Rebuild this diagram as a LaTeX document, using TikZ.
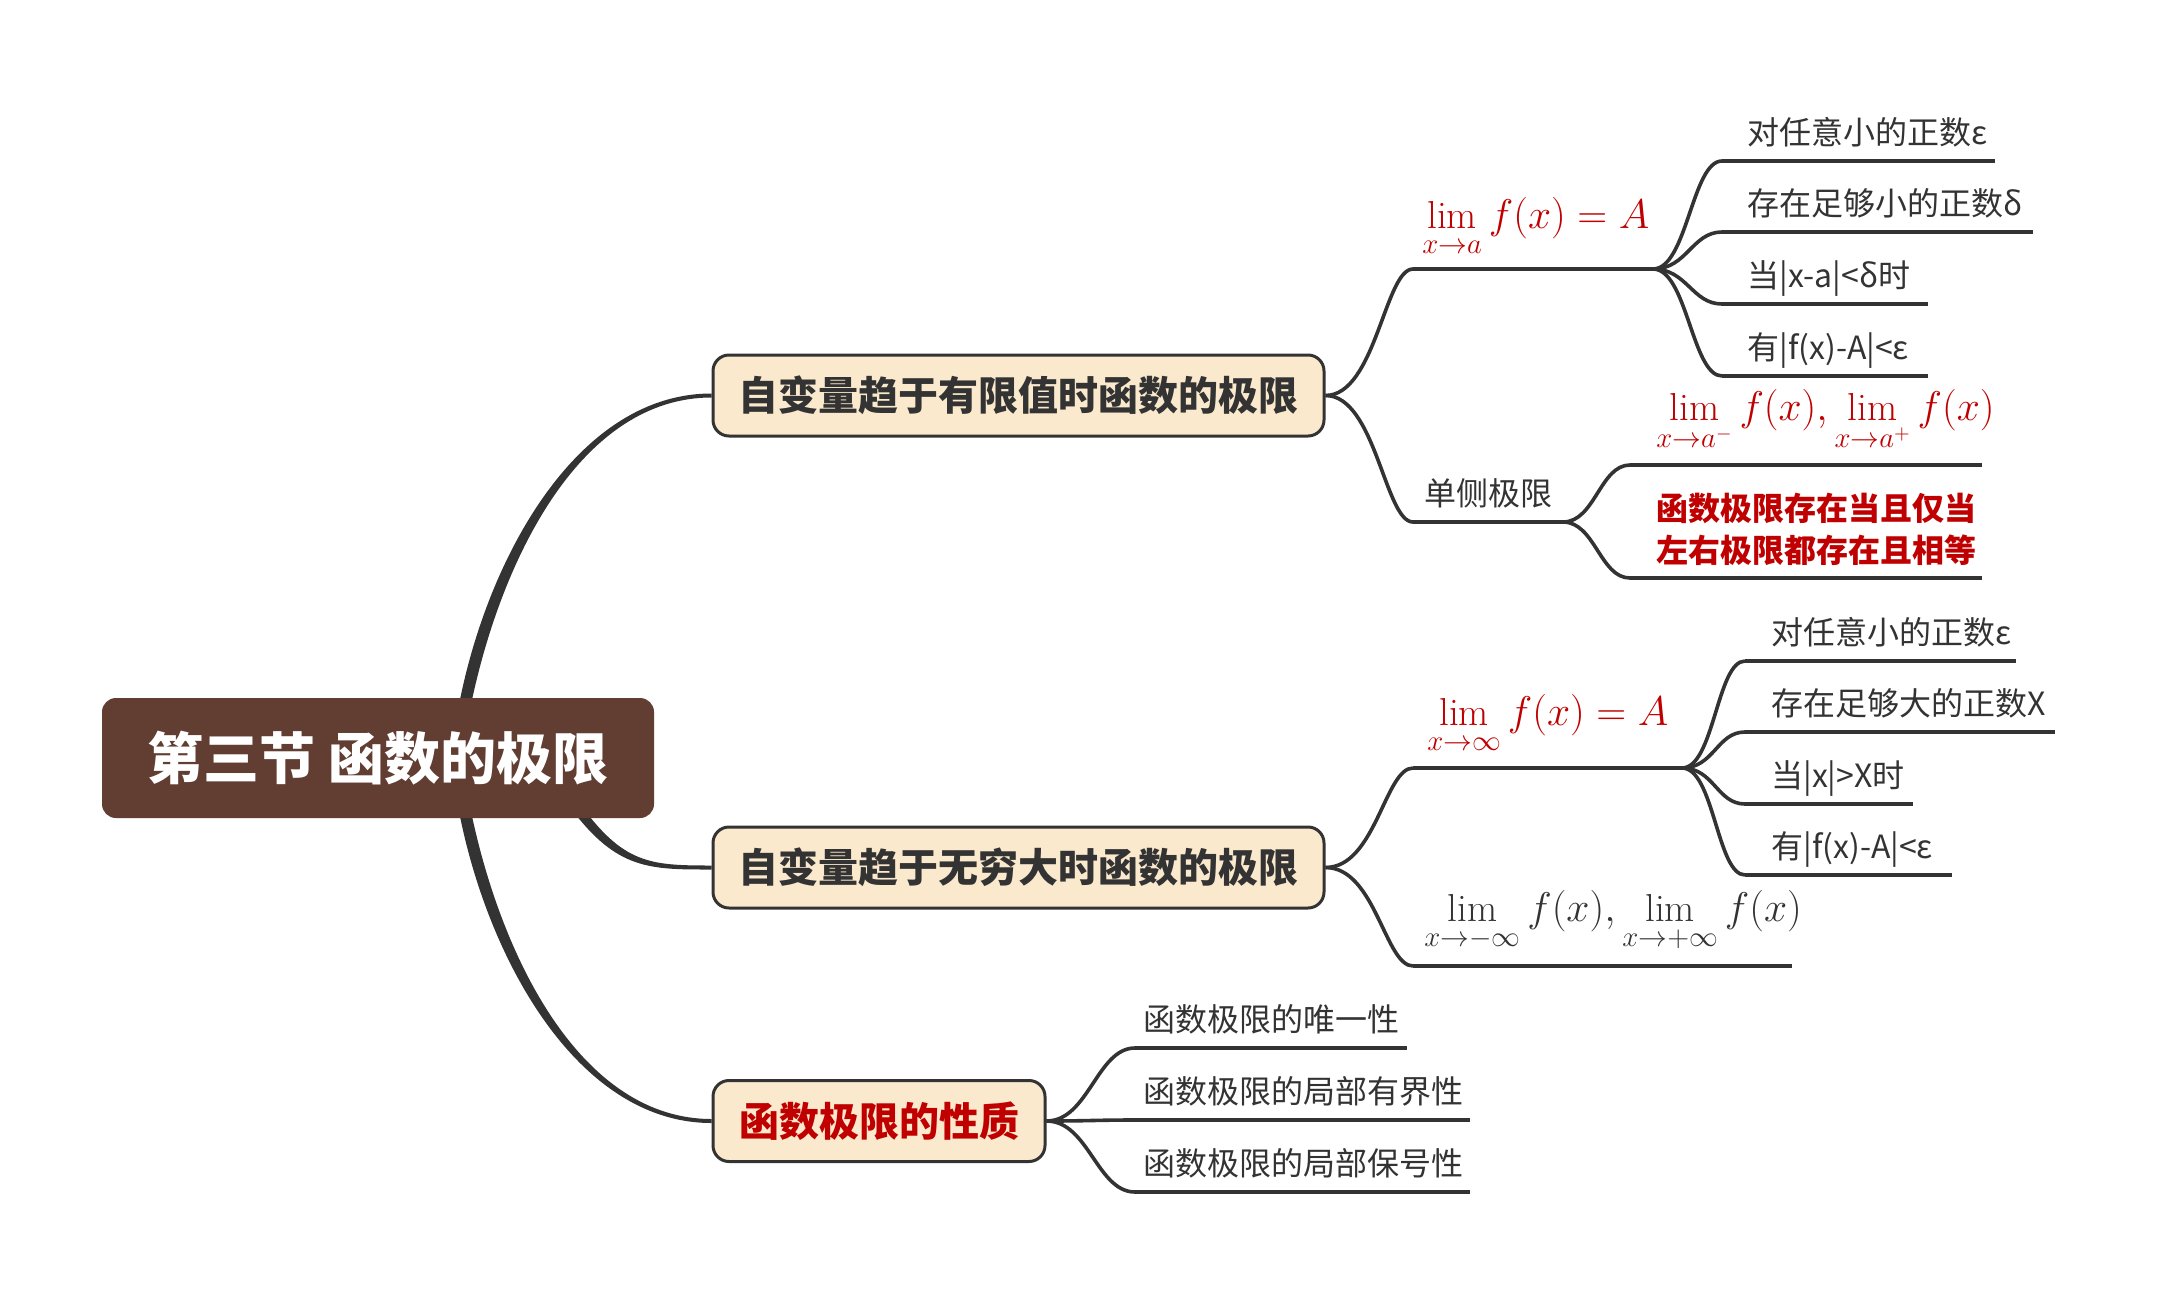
\documentclass[tikz,border=0pt]{standalone}
\usepackage{exscale}
\usepackage{fontspec}
\newfontfamily\cjk{Noto Sans CJK SC}
\usetikzlibrary{calc,backgrounds}
\definecolor{ln}{HTML}{333333}
\definecolor{rootc}{RGB}{97,61,50}
\definecolor{boxc}{RGB}{250,233,205}
\definecolor{redc}{HTML}{C00000}
\definecolor{txt}{HTML}{333333}
\begin{document}
\begin{tikzpicture}[x=0.5pt,y=-0.5pt,
  rootbox/.style={fill=rootc, rounded corners=7pt, minimum width=276pt, minimum height=60pt, text=white, font=\cjk\bfseries\fontsize{28}{32}\selectfont, inner sep=0},
  mainbox/.style={fill=boxc, draw=ln, line width=1.5pt, rounded corners=8pt, minimum height=40.5pt, font=\cjk\bfseries\fontsize{20}{24}\selectfont, text=txt, inner sep=0},
  leaf/.style={anchor=base west, inner sep=0, font=\cjk\fontsize{16}{19}\selectfont, text=txt},
  mathlbl/.style={anchor=south west, inner sep=0, text=redc, font=\fontsize{19.5}{24}\selectfont},
  redlbl/.style={anchor=west, inner sep=0, text=redc, align=left, font=\cjk\bfseries\fontsize{16}{21}\selectfont},
  conn/.style={draw=ln, line width=1.8pt},
  uline/.style={draw=ln, line width=1.8pt},
]
\useasboundingbox (0,0) rectangle (2158,1296);

% main nodes
\node[rootbox] (root) at (378,758) {第三节 函数的极限};
\node[mainbox, minimum width=305.5pt] (b1) at (1018.5,395.5) {自变量趋于有限值时函数的极限};
\node[mainbox, minimum width=305.5pt] (b2) at (1018.5,867.5) {自变量趋于无穷大时函数的极限};
\node[mainbox, minimum width=166pt, text=redc] (b3) at (879,1121) {函数极限的性质};

% ---------- group 1 ----------
\coordinate (l1s) at (1413,269); \coordinate (j1) at (1653,269);
\coordinate (l2s) at (1413,522); \coordinate (j2) at (1563,522);
\node[mathlbl] (f1) at (1422,258) {$\displaystyle\lim_{x\to a} f(x)=A$};
\node[leaf] (t2) at (1424,505) {单侧极限};

\coordinate (a1) at (1722,161); \coordinate (a1e) at (1995,161);
\coordinate (a2) at (1722,232); \coordinate (a2e) at (2033,232);
\coordinate (a3) at (1722,304); \coordinate (a3e) at (1928,304);
\coordinate (a4) at (1722,376); \coordinate (a4e) at (1928,376);
\node[leaf] (ta1) at (1747,144) {对任意小的正数ε};
\node[leaf] (ta2) at (1747,215) {存在足够小的正数δ};
\node[leaf] (ta3) at (1747,287) {当|x-a|<δ时};
\node[leaf] (ta4) at (1747,359) {有|f(x)-A|<ε};

\coordinate (c1) at (1630,465); \coordinate (c1e) at (1982,465);
\coordinate (c2) at (1630,578); \coordinate (c2e) at (1982,578);
\node[mathlbl] (f2) at (1656,452) {$\displaystyle\lim_{x\to a^-} f(x), \lim_{x\to a^+} f(x)$};
\node[redlbl] (r1) at (1656,529) {函数极限存在当且仅当\\左右极限都存在且相等};

% ---------- group 2 ----------
\coordinate (m1s) at (1413,768); \coordinate (j4) at (1682,768);
\coordinate (m2s) at (1413,966); \coordinate (m2e) at (1792,966);
\node[mathlbl] (f3) at (1427,755) {$\displaystyle\lim_{x\to\infty} f(x)=A$};
\node[mathlbl, text=txt] (f4) at (1424,953) {$\displaystyle\lim_{x\to-\infty} f(x), \lim_{x\to+\infty} f(x)$};

\coordinate (d1) at (1745,661); \coordinate (d1e) at (2016,661);
\coordinate (d2) at (1745,732); \coordinate (d2e) at (2055,732);
\coordinate (d3) at (1745,804); \coordinate (d3e) at (1913,804);
\coordinate (d4) at (1745,875); \coordinate (d4e) at (1952,875);
\node[leaf] (td1) at (1771,644) {对任意小的正数ε};
\node[leaf] (td2) at (1771,715) {存在足够大的正数X};
\node[leaf] (td3) at (1771,787) {当|x|>X时};
\node[leaf] (td4) at (1771,858) {有|f(x)-A|<ε};

% ---------- group 3 ----------
\coordinate (e1) at (1135,1048); \coordinate (e1e) at (1407,1048);
\coordinate (e2) at (1135,1120); \coordinate (e2e) at (1470,1120);
\coordinate (e3) at (1135,1192); \coordinate (e3e) at (1470,1192);
\node[leaf] (te1) at (1143,1031) {函数极限的唯一性};
\node[leaf] (te2) at (1143,1103) {函数极限的局部有界性};
\node[leaf] (te3) at (1143,1175) {函数极限的局部保号性};

\begin{scope}[on background layer]
\fill[white] (0,0) rectangle (2158,1296);
% tapered main connectors
\fill[ln] ($(root.north)+(81,7)$) .. controls (488,556) and (578,393.5) .. ($(b1.west)+(0,-2)$)
   -- ($(b1.west)+(0,2)$) .. controls (582,397.5) and (502,556) .. ($(root.north)+(93,7)$) -- cycle;
\fill[ln] ($(root.south)+(81,-7)$) .. controls (488,960) and (578,1123) .. ($(b3.west)+(0,2)$)
   -- ($(b3.west)+(0,-2)$) .. controls (582,1119) and (502,960) .. ($(root.south)+(93,-7)$) -- cycle;
\fill[ln] ($(root.south)+(201,-16)$) .. controls (623,864) and (650,865.5) .. ($(b2.west)+(0,-2)$)
   -- ($(b2.west)+(0,2)$) .. controls (650,869.5) and (617,870) .. ($(root.south)+(193,-10)$) -- cycle;

% group 1
\draw[conn] (b1.east) .. controls +(50,0) and +(-28,0) .. (l1s);
\draw[conn] (b1.east) .. controls +(50,0) and +(-28,0) .. (l2s);
\draw[uline] (l1s) -- (j1);
\draw[uline] (l2s) -- (j2);
\foreach \n in {a1,a2,a3,a4}{
  \draw[conn] (j1) .. controls +(34,0) and +(-30,0) .. (\n);
  \draw[uline] (\n) -- (\n e);
}
\foreach \n in {c1,c2}{
  \draw[conn] (j2) .. controls +(32,0) and +(-30,0) .. (\n);
  \draw[uline] (\n) -- (\n e);
}
% group 2
\draw[conn] (b2.east) .. controls +(50,0) and +(-28,0) .. (m1s);
\draw[conn] (b2.east) .. controls +(50,0) and +(-28,0) .. (m2s);
\draw[uline] (m1s) -- (j4);
\draw[uline] (m2s) -- (m2e);
\foreach \n in {d1,d2,d3,d4}{
  \draw[conn] (j4) .. controls +(32,0) and +(-28,0) .. (\n);
  \draw[uline] (\n) -- (\n e);
}
% group 3
\foreach \n in {e1,e2,e3}{
  \draw[conn] (b3.east) .. controls +(42,0) and +(-38,0) .. (\n);
  \draw[uline] (\n) -- (\n e);
}
\end{scope}
\end{tikzpicture}
\end{document}
